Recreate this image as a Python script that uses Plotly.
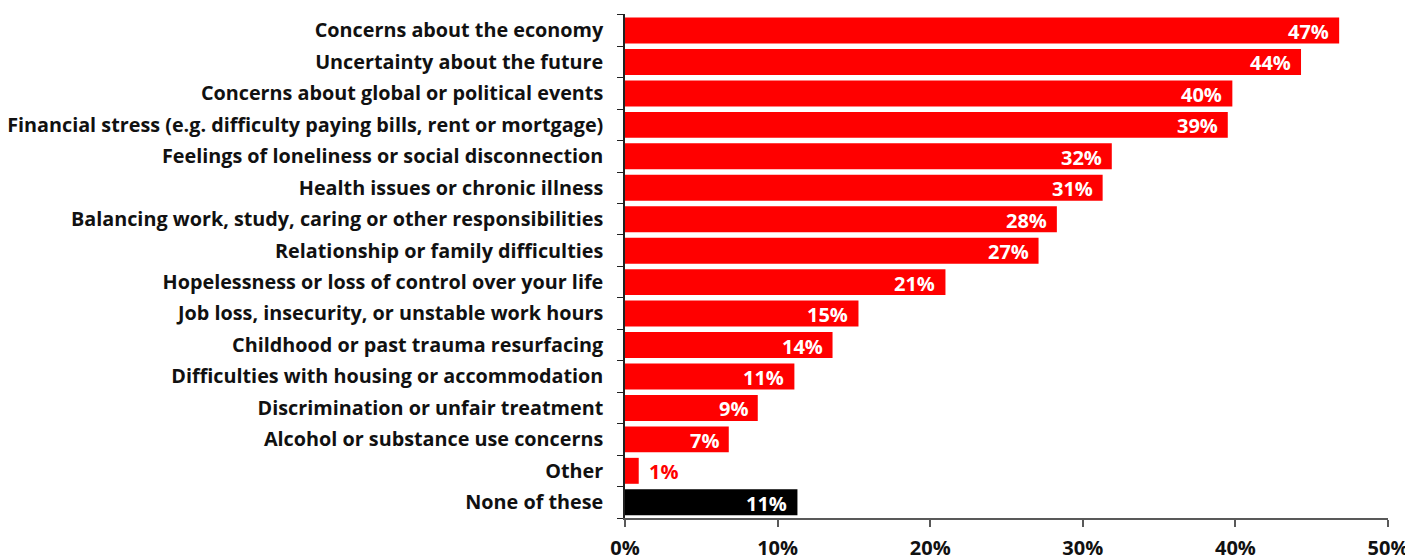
import plotly.graph_objects as go

categories = [
    "Concerns about the economy",
    "Uncertainty about the future",
    "Concerns about global or political events",
    "Financial stress (e.g. difficulty paying bills, rent or mortgage)",
    "Feelings of loneliness or social disconnection",
    "Health issues or chronic illness",
    "Balancing work, study, caring or other responsibilities",
    "Relationship or family difficulties",
    "Hopelessness or loss of control over your life",
    "Job loss, insecurity, or unstable work hours",
    "Childhood or past trauma resurfacing",
    "Difficulties with housing or accommodation",
    "Discrimination or unfair treatment",
    "Alcohol or substance use concerns",
    "Other",
    "None of these",
]
values = [46.8, 44.3, 39.8, 39.5, 31.9, 31.3, 28.3, 27.1, 21.0, 15.3, 13.6, 11.1, 8.7, 6.8, 0.9, 11.3]
labels = ["47%", "44%", "40%", "39%", "32%", "31%", "28%", "27%", "21%", "15%", "14%", "11%", "9%", "7%", "1%", "11%"]
tick_vals = [0, 10, 20, 30, 40, 50]
tick_text = ["0%", "10%", "20%", "30%", "40%", "50%"]

RED = "#FF0000"
BLACK = "#000000"
FONT = "Open Sans"

colors = [BLACK if c == "None of these" else RED for c in categories]

fig = go.Figure(go.Bar(
    x=values, y=categories, orientation="h",
    marker=dict(color=colors, line=dict(width=0)),
    hoverinfo="skip",
))

for c, v, t in zip(categories, values, labels):
    outside = v < 3
    fig.add_annotation(
        x=v, y=c, text=f"<b>{t}</b>", showarrow=False,
        xanchor="left" if outside else "right",
        xshift=8 if outside else -8, yshift=-1,
        font=dict(family=FONT, size=20, color=RED if outside else "white"),
    )

fig.update_layout(
    width=1405, height=548,
    margin=dict(l=617, r=25, t=6, b=38, autoexpand=False),
    paper_bgcolor="white", plot_bgcolor="white",
    bargap=0.175,
    showlegend=False,
    font=dict(family=FONT, size=20, color="#111111"),
)
fig.update_xaxes(
    range=[0, 50], tickvals=tick_vals, ticktext=[f"<b>{t}</b>" for t in tick_text],
    showgrid=False, zeroline=False, automargin=False,
    showline=True, linecolor="#595959", linewidth=2,
    ticks="outside", ticklen=7, tickcolor="#595959", tickwidth=2,
    ticklabelstandoff=4,
    tickfont=dict(family=FONT, size=20, color="#111111"),
)
fig.update_yaxes(
    autorange="reversed", showgrid=False, zeroline=False, automargin=False,
    showline=True, linecolor="#222222", linewidth=1.5,
    ticks="outside", ticklen=6, tickcolor="#222222", tickson="boundaries",
    ticklabelstandoff=16,
    tickvals=categories, ticktext=[f"<b>{c}</b>" for c in categories],
    tickfont=dict(family=FONT, size=19.8, color="#111111"),
)

fig.write_html("out.html")
